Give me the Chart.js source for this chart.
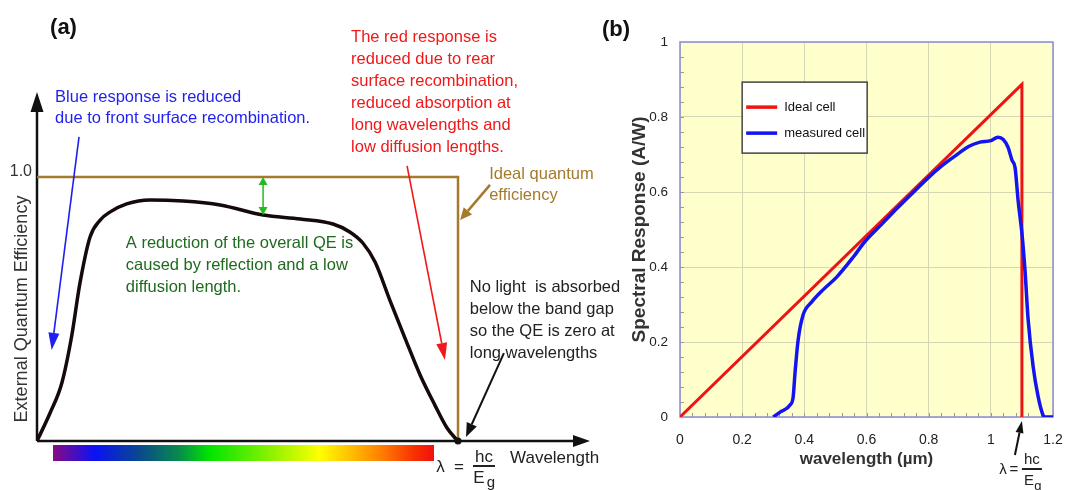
<!DOCTYPE html>
<html>
<head>
<meta charset="utf-8">
<script src="https://cdn.jsdelivr.net/npm/chart.js@4.4.1/dist/chart.umd.min.js"></script>
<style>
  body { margin: 0; background: #fff; width: 1066px; height: 490px; overflow: hidden; position: relative; }
  #qe-wrap { position: absolute; left: 0; top: 0; width: 640px; height: 490px; }
  #sr-wrap { position: absolute; left: 596px; top: 0; width: 482px; height: 490px; }
</style>
</head>
<body>
<div id="qe-wrap"><canvas id="qeChart" width="640" height="490"></canvas></div>
<div id="sr-wrap"><canvas id="srChart" width="482" height="490"></canvas></div>
<script>
const FONT = '"Liberation Sans", Arial, Helvetica, sans-serif';

// (a) external quantum efficiency, wavelength scaled so the band gap sits at 1
const qeWavelength = [0, 0.031, 0.059, 0.082, 0.102, 0.126, 0.150, 0.173, 0.213, 0.268, 0.347, 0.435, 0.537, 0.625, 0.703, 0.743, 0.774, 0.803, 0.838, 0.874, 0.910, 0.945, 0.974, 0.995, 1.0];
const qeValue = [0, 0.106, 0.220, 0.394, 0.598, 0.773, 0.837, 0.867, 0.898, 0.913, 0.909, 0.894, 0.856, 0.841, 0.822, 0.792, 0.750, 0.678, 0.534, 0.390, 0.250, 0.136, 0.049, 0.008, 0];
const idealQeWavelength = [0, 1, 1];
const idealQeValue = [1, 1, 0];
const qeTicks = [1.0];

// (b) spectral response in A/W against wavelength in µm
const idealWavelength = [0, 1.1, 1.1];
const idealResponse = [0, 0.887, 0];
const cellWavelength = [0.30, 0.322, 0.354, 0.364, 0.37, 0.38, 0.396, 0.424, 0.46, 0.504, 0.557, 0.595, 0.65, 0.70, 0.75, 0.80, 0.84, 0.88, 0.93, 0.965, 1.0, 1.023, 1.04, 1.055, 1.068, 1.078, 1.088, 1.1, 1.11, 1.12, 1.136, 1.152, 1.168, 1.175, 1.2];
const cellResponse = [0, 0.013, 0.032, 0.053, 0.117, 0.205, 0.272, 0.307, 0.339, 0.373, 0.426, 0.468, 0.515, 0.558, 0.599, 0.639, 0.668, 0.693, 0.722, 0.733, 0.737, 0.746, 0.74, 0.72, 0.685, 0.665, 0.575, 0.49, 0.39, 0.26, 0.135, 0.055, 0.005, 0, 0];
const wavelengthTicks = [0, 0.2, 0.4, 0.6, 0.8, 1, 1.2];
const responseTicks = [0, 0.2, 0.4, 0.6, 0.8, 1];

function pts(xs, ys) {
  return xs.map((x, i) => ({ x: x, y: ys[i] }));
}

function arrow(ctx, x1, y1, x2, y2, color, width, headLen, headW) {
  const ang = Math.atan2(y2 - y1, x2 - x1);
  const bx = x2 - Math.cos(ang) * headLen;
  const by = y2 - Math.sin(ang) * headLen;
  ctx.save();
  ctx.strokeStyle = color;
  ctx.fillStyle = color;
  ctx.lineWidth = width;
  ctx.beginPath();
  ctx.moveTo(x1, y1);
  ctx.lineTo(bx, by);
  ctx.stroke();
  ctx.beginPath();
  ctx.moveTo(x2, y2);
  ctx.lineTo(bx + Math.sin(ang) * headW / 2, by - Math.cos(ang) * headW / 2);
  ctx.lineTo(bx - Math.sin(ang) * headW / 2, by + Math.cos(ang) * headW / 2);
  ctx.closePath();
  ctx.fill();
  ctx.restore();
}

function textLines(ctx, lines, x, y, gap, font, color, align) {
  ctx.save();
  ctx.font = font;
  ctx.fillStyle = color;
  ctx.textAlign = align || 'left';
  ctx.textBaseline = 'middle';
  lines.forEach((t, i) => ctx.fillText(t, x, y + i * gap));
  ctx.restore();
}

function bar(ctx, x1, x2, y, color) {
  ctx.save();
  ctx.strokeStyle = color;
  ctx.lineWidth = 2;
  ctx.beginPath();
  ctx.moveTo(x1, y);
  ctx.lineTo(x2, y);
  ctx.stroke();
  ctx.restore();
}

// labels, arrows and the spectrum strip around the QE curve
const qeNotes = {
  id: 'qeNotes',
  beforeDatasetsDraw(chart) {
    const { ctx, chartArea: a } = chart;
    arrow(ctx, a.left, a.bottom, a.right, a.bottom, '#111', 2.5, 17, 12);
    arrow(ctx, a.left, a.bottom, a.left, a.top, '#111', 2.5, 20, 13);
  },
  afterDraw(chart) {
    const { ctx, chartArea: a, scales: { x, y } } = chart;
    const px = v => x.getPixelForValue(v);
    const py = v => y.getPixelForValue(v);
    const f = '16.5px ' + FONT;

    textLines(ctx, ['(a)'], px(0.031), py(1.564), 0, 'bold 22px ' + FONT, '#111');

    ctx.save();
    ctx.translate(a.left - 15, py(0.5));
    ctx.rotate(-Math.PI / 2);
    ctx.font = '18px ' + FONT;
    ctx.fillStyle = '#333';
    ctx.textAlign = 'center';
    ctx.textBaseline = 'middle';
    ctx.fillText('External Quantum Efficiency', 0, 0);
    ctx.restore();

    textLines(ctx, ['Blue response is reduced', 'due to front surface recombination.'], px(0.043), py(1.303), 21, f, '#1f1ff0');
    arrow(ctx, px(0.0998), py(1.152), px(0.0349), py(0.345), '#1f1ff0', 1.6, 17, 11);

    textLines(ctx, ['The red response is', 'reduced due to rear', 'surface recombination,', 'reduced absorption at', 'long wavelengths and', 'low diffusion lengths.'], px(0.746), py(1.527), 22, f, '#f01818');
    arrow(ctx, px(0.879), py(1.042), px(0.969), py(0.307), '#f01818', 1.6, 17, 11);

    textLines(ctx, ['Ideal quantum', 'efficiency'], px(1.074), py(1.011), 21, f, '#a47a2c');
    arrow(ctx, px(1.076), py(0.970), px(1.005), py(0.837), '#a47a2c', 2.5, 12, 11);

    // gap between ideal and measured QE
    const gx = px(qeWavelength[12]);
    const mid = (py(1) + py(qeValue[12])) / 2;
    arrow(ctx, gx, mid, gx, py(1), '#22bb22', 1.5, 8, 9);
    arrow(ctx, gx, mid, gx, py(qeValue[12]), '#22bb22', 1.5, 8, 9);
    textLines(ctx, ['A reduction of the overall QE is', 'caused by reflection and a low', 'diffusion length.'], px(0.211), py(0.75), 22, f, '#1e6b1e');

    textLines(ctx, ['No light  is absorbed', 'below the band gap', 'so the QE is zero at', 'long wavelengths'], px(1.028), py(0.58), 21.7, f, '#222');
    arrow(ctx, px(1.109), py(0.333), px(1.019), py(0.015), '#111', 2, 14, 11);

    // visible spectrum under the axis
    const sx1 = px(0.038), sx2 = px(0.943);
    const grad = ctx.createLinearGradient(sx1, 0, sx2, 0);
    grad.addColorStop(0, '#8a0a82');
    grad.addColorStop(0.11, '#0a12f5');
    grad.addColorStop(0.23, '#0a4a8a');
    grad.addColorStop(0.33, '#078a4e');
    grad.addColorStop(0.41, '#00e400');
    grad.addColorStop(0.55, '#78f000');
    grad.addColorStop(0.70, '#ffff00');
    grad.addColorStop(0.78, '#ffc000');
    grad.addColorStop(0.86, '#ff8000');
    grad.addColorStop(0.95, '#f83000');
    grad.addColorStop(1, '#f01010');
    ctx.fillStyle = grad;
    ctx.fillRect(sx1, a.bottom + 4, sx2 - sx1, 16);

    // band-gap point and lambda = hc / Eg
    const gx0 = px(1), gy0 = py(0);
    ctx.beginPath();
    ctx.arc(gx0, gy0, 3.5, 0, Math.PI * 2);
    ctx.fillStyle = '#111';
    ctx.fill();
    const ff = '17px ' + FONT;
    textLines(ctx, ['λ'], gx0 - 17.5, gy0 + 26, 0, ff, '#222', 'center');
    textLines(ctx, ['='], gx0 + 1, gy0 + 26, 0, ff, '#222', 'center');
    textLines(ctx, ['hc'], gx0 + 26, gy0 + 16, 0, ff, '#222', 'center');
    bar(ctx, gx0 + 15, gx0 + 37, gy0 + 25, '#222');
    textLines(ctx, ['E'], gx0 + 21, gy0 + 37, 0, ff, '#222', 'center');
    textLines(ctx, ['g'], gx0 + 33, gy0 + 42, 0, '15px ' + FONT, '#222', 'center');
    textLines(ctx, ['Wavelength'], gx0 + 52, gy0 + 17, 0, ff, '#222');
  }
};

new Chart(document.getElementById('qeChart'), {
  type: 'scatter',
  data: {
    datasets: [
      {
        label: 'External quantum efficiency',
        data: pts(qeWavelength, qeValue),
        showLine: true,
        borderColor: '#150909',
        borderWidth: 3.5,
        pointRadius: 0,
        cubicInterpolationMode: 'monotone'
      },
      {
        label: 'Ideal quantum efficiency',
        data: pts(idealQeWavelength, idealQeValue),
        showLine: true,
        borderColor: '#a47a2c',
        borderWidth: 2.5,
        pointRadius: 0,
        tension: 0
      }
    ]
  },
  options: {
    responsive: false,
    animation: false,
    layout: { padding: { left: 8, right: 50, top: 92, bottom: 49 } },
    plugins: { legend: { display: false }, tooltip: { enabled: false } },
    scales: {
      x: { type: 'linear', min: 0, max: 1.3135, display: false },
      y: {
        min: 0,
        max: 1.322,
        grid: { display: false, drawTicks: false },
        border: { display: false },
        afterBuildTicks: s => { s.ticks = qeTicks.map(v => ({ value: v })); },
        afterFit: s => { s.width = 29; },
        ticks: {
          padding: 5,
          labelOffset: -5,
          color: '#333',
          font: { size: 16, family: FONT },
          callback: v => v.toFixed(1)
        }
      }
    }
  },
  plugins: [qeNotes]
});

// plot frame, minor ticks, legend and labels for the spectral response
const srNotes = {
  id: 'srNotes',
  beforeDraw(chart) {
    const { ctx, chartArea: a } = chart;
    ctx.save();
    ctx.fillStyle = '#ffffcc';
    ctx.fillRect(a.left, a.top, a.width, a.height);
    ctx.restore();
  },
  beforeDatasetsDraw(chart) {
    const { ctx, chartArea: a, scales: { x, y } } = chart;
    ctx.save();
    ctx.strokeStyle = '#9a9a9a';
    ctx.lineWidth = 1;
    ctx.beginPath();
    for (let v = 0.04; v < 1.2; v += 0.04) {
      const xp = Math.round(x.getPixelForValue(v)) + 0.5;
      ctx.moveTo(xp, a.bottom);
      ctx.lineTo(xp, a.bottom - 4);
    }
    for (let v = 0.04; v < 1; v += 0.04) {
      const yp = Math.round(y.getPixelForValue(v)) + 0.5;
      ctx.moveTo(a.left, yp);
      ctx.lineTo(a.left + 4, yp);
    }
    ctx.stroke();
    ctx.strokeStyle = '#8c8cd8';
    ctx.lineWidth = 1.5;
    ctx.strokeRect(a.left, a.top, a.width, a.height);
    ctx.restore();
  },
  afterDraw(chart) {
    const { ctx, scales: { x, y } } = chart;
    const px = v => x.getPixelForValue(v);
    const py = v => y.getPixelForValue(v);

    textLines(ctx, ['(b)'], px(-0.251), py(1.032), 0, 'bold 22px ' + FONT, '#111');

    // legend box
    const lx = px(0.2), ly = py(0.893);
    ctx.save();
    ctx.fillStyle = '#fff';
    ctx.fillRect(lx, ly, 125, 71);
    ctx.strokeStyle = '#444';
    ctx.lineWidth = 1.5;
    ctx.strokeRect(lx, ly, 125, 71);
    chart.data.datasets.forEach((ds, i) => {
      const ry = ly + 25 + i * 26;
      ctx.strokeStyle = ds.borderColor;
      ctx.lineWidth = 3.5;
      ctx.beginPath();
      ctx.moveTo(lx + 4, ry);
      ctx.lineTo(lx + 35, ry);
      ctx.stroke();
      textLines(ctx, [ds.label], lx + 42, ry, 0, '13px ' + FONT, '#111');
    });
    ctx.restore();

    // cut-off wavelength marker
    const cx = px(idealWavelength[1]), cy = py(0);
    arrow(ctx, cx - 7, cy + 38, cx, cy + 4, '#111', 2, 12, 8);
    const ff = '15px ' + FONT;
    textLines(ctx, ['λ'], cx - 19, cy + 53, 0, ff, '#222', 'center');
    textLines(ctx, ['='], cx - 8, cy + 53, 0, ff, '#222', 'center');
    textLines(ctx, ['hc'], cx + 10, cy + 43, 0, ff, '#222', 'center');
    bar(ctx, cx, cx + 20, cy + 52, '#222');
    textLines(ctx, ['E'], cx + 7, cy + 64, 0, ff, '#222', 'center');
    textLines(ctx, ['g'], cx + 16, cy + 69, 0, '13px ' + FONT, '#222', 'center');
  }
};

const gridColor = '#d6d6b4';
const tickText = v => String(Math.round(v * 10) / 10);

new Chart(document.getElementById('srChart'), {
  type: 'scatter',
  data: {
    datasets: [
      {
        label: 'Ideal cell',
        data: pts(idealWavelength, idealResponse),
        showLine: true,
        borderColor: '#ee1414',
        borderWidth: 3,
        pointRadius: 0,
        tension: 0,
        order: 1
      },
      {
        label: 'measured cell',
        data: pts(cellWavelength, cellResponse),
        showLine: true,
        borderColor: '#1414f0',
        borderWidth: 3.5,
        pointRadius: 0,
        cubicInterpolationMode: 'monotone',
        order: 0
      }
    ]
  },
  options: {
    responsive: false,
    animation: false,
    layout: { padding: { left: 29, right: 25, top: 42, bottom: 0 } },
    plugins: { legend: { display: false }, tooltip: { enabled: false } },
    scales: {
      x: {
        type: 'linear',
        min: 0,
        max: 1.2,
        afterBuildTicks: s => { s.ticks = wavelengthTicks.map(v => ({ value: v })); },
        afterFit: s => { s.height = 73; },
        grid: { color: gridColor, drawTicks: false },
        border: { display: false },
        ticks: { padding: 15, color: '#222', font: { size: 14, family: FONT }, callback: tickText },
        title: {
          display: true,
          text: 'wavelength (µm)',
          color: '#333',
          font: { size: 17, weight: 'bold', family: FONT },
          padding: { top: 0, bottom: 20 }
        }
      },
      y: {
        min: 0,
        max: 1,
        afterBuildTicks: s => { s.ticks = responseTicks.map(v => ({ value: v })); },
        afterFit: s => { s.width = 55; },
        grid: { color: gridColor, drawTicks: false },
        border: { display: false },
        ticks: { padding: 12, color: '#222', font: { size: 13.5, family: FONT }, callback: tickText },
        title: {
          display: true,
          text: 'Spectral Response (A/W)',
          color: '#333',
          font: { size: 19, weight: 'bold', family: FONT },
          padding: { top: 3, bottom: 0 }
        }
      }
    }
  },
  plugins: [srNotes]
});
</script>
</body>
</html>
